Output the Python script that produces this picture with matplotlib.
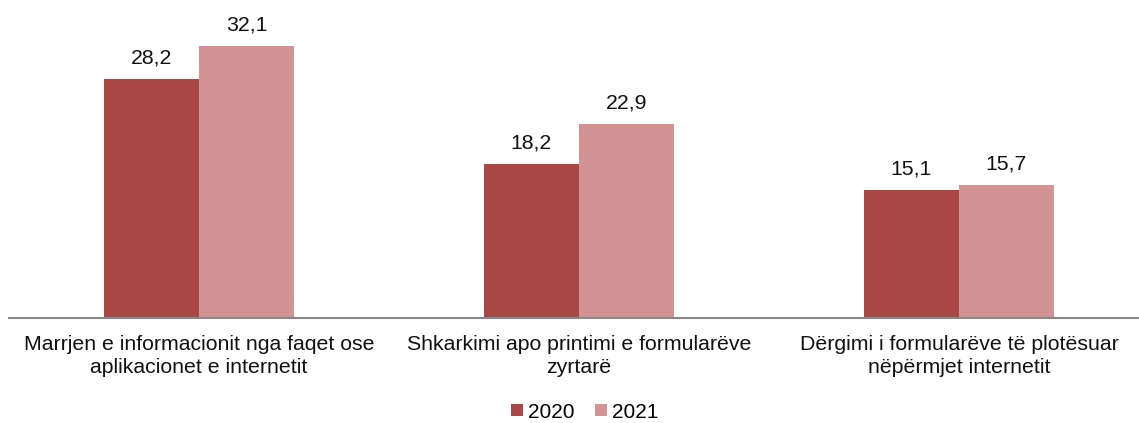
import numpy as np
import matplotlib.pyplot as plt

plt.rcParams['font.family'] = ['Liberation Sans', 'DejaVu Sans']

categories = ['Marrjen e informacionit nga faqet ose\naplikacionet e internetit',
              'Shkarkimi apo printimi e formularëve\nzyrtarë',
              'Dërgimi i formularëve të plotësuar\nnëpërmjet internetit']
years = ['2020', '2021']
v2020 = [28.2, 18.2, 15.1]
v2021 = [32.1, 22.9, 15.7]
colors = ['#AA4846', '#D39392']

fig = plt.figure(figsize=(11.39, 4.23), dpi=100)
ax = fig.add_axes([9 / 1139, 105 / 423, 1130 / 1139, 300 / 423])

x = np.arange(len(categories))
w = 0.25
b1 = ax.bar(x - w / 2, v2020, w, color=colors[0], label=years[0])
b2 = ax.bar(x + w / 2, v2021, w, color=colors[1], label=years[1])

for bars, vals in [(b1, v2020), (b2, v2021)]:
    for r, v in zip(bars, vals):
        ax.annotate(f"{v:.1f}".replace('.', ','), (r.get_x() + r.get_width() / 2, v),
                    xytext=(0, 8), textcoords='offset points', ha='center', va='bottom',
                    fontsize=15.3, color='#111111')

ax.set_xlim(-0.5, 2.474)
ax.set_ylim(0, 300 / 8.48)
ax.set_xticks(x)
ax.set_xticklabels(categories, fontsize=15.3, color='#111111', linespacing=1.3)
ax.tick_params(axis='x', length=0, pad=12)
ax.set_yticks([])
for s in ['top', 'right', 'left']:
    ax.spines[s].set_visible(False)
ax.spines['bottom'].set_color('#888888')
ax.spines['bottom'].set_linewidth(1.5)

fig.legend(loc='center', bbox_to_anchor=(585 / 1139, 1 - 412 / 423), ncol=2, frameon=False,
           fontsize=15, handlelength=0.55, handleheight=0.55, handletextpad=0.25, columnspacing=1.0)

fig.savefig('out.png', dpi=100)
